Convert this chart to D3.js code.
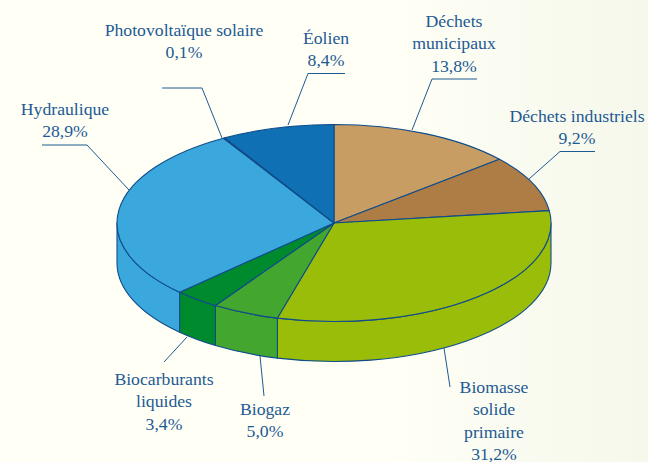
<!DOCTYPE html>
<html lang="fr">
<head>
<meta charset="utf-8">
<script src="https://cdn.jsdelivr.net/npm/d3@7"></script>
<style>
  html, body { margin: 0; padding: 0; overflow: hidden; background: #fffff5; }
  svg { display: block; }
  text { font-family: "Liberation Serif", serif; font-size: 17.7px; fill: #1d5a94; text-anchor: middle; }
</style>
</head>
<body>
<div id="chart"></div>
<script>
const sources = ['Déchets municipaux', 'Déchets industriels', 'Biomasse solide primaire', 'Biogaz',
  'Biocarburants liquides', 'Hydraulique', 'Photovoltaïque solaire', 'Éolien'];
const shares = [13.8, 9.2, 31.2, 5.0, 3.4, 28.9, 0.1, 8.4];
const colors = ['#c79d63', '#ae7d46', '#9abd0a', '#43a62e', '#008a2e', '#3aa8dc', '#3aa8dc', '#0f70b3'];
const labelLines = [
  ['Déchets', 'municipaux'], ['Déchets industriels'], ['Biomasse', 'solide', 'primaire'], ['Biogaz'],
  ['Biocarburants', 'liquides'], ['Hydraulique'], ['Photovoltaïque solaire'], ['Éolien'],
];

// where the labels and their leader lines sit
const labelX = [454, 577, 494, 265, 164, 65, 184, 326];
const labelY = [27, 122, 393, 415, 385, 115, 36, 44];
const leaders = [
  [[412, 130], [432, 79], [477, 79]],
  [[529, 179], [560, 151.5], [595, 151.5]],
  [[444, 348], [450, 387]],
  [[260, 356], [264, 396]],
  [[187, 337], [164, 362]],
  [[129, 190], [87, 145], [42, 145]],
  [[222, 138], [202, 88], [162, 88]],
  [[288, 125], [308, 73.5], [345, 73.5]],
];

const width = 648, height = 462;
const cx = 334, cy = 223, rx = 217, ry = 98.5, depth = 40;
const stroke = '#0f4c8a';

const svg = d3.select('#chart').append('svg')
  .attr('width', width)
  .attr('height', height);

const grad = svg.append('defs').append('linearGradient').attr('id', 'bg');
grad.append('stop').attr('offset', '60%').attr('stop-color', '#fffff5');
grad.append('stop').attr('offset', '100%').attr('stop-color', '#f6f8ec');
svg.append('rect').attr('width', width).attr('height', height).attr('fill', 'url(#bg)');

const pie = d3.pie().sort(null).value(d => d);
const slices = pie(shares);

// point on the rim, angle clockwise from the top like d3.pie
const rim = (a, dy = 0) => [cx + rx * Math.sin(a), cy - ry * Math.cos(a) + dy];

// front wall, only the part of each slice between 3 o'clock and 9 o'clock shows
const wallPath = d => {
  const a0 = Math.max(d.startAngle, Math.PI / 2);
  const a1 = Math.min(d.endAngle, Math.PI * 1.5);
  if (a1 <= a0) return null;
  const p0 = rim(a0), p1 = rim(a1), q1 = rim(a1, depth), q0 = rim(a0, depth);
  return `M${p0}A${rx},${ry} 0 0 1 ${p1}L${q1}A${rx},${ry} 0 0 0 ${q0}Z`;
};

svg.append('g').selectAll('path')
  .data(slices.filter(d => wallPath(d)))
  .enter()
  .append('path')
  .attr('d', wallPath)
  .attr('fill', d => colors[d.index])
  .attr('stroke', stroke)
  .attr('stroke-width', 1.1)
  .attr('stroke-linejoin', 'round');

// top face: circular arc squashed into the ellipse
const arc = d3.arc().innerRadius(0).outerRadius(rx);
svg.append('g')
  .attr('transform', `translate(${cx},${cy}) scale(1,${ry / rx})`)
  .selectAll('path')
  .data(slices)
  .enter()
  .append('path')
  .attr('d', arc)
  .attr('fill', d => colors[d.index])
  .attr('stroke', stroke)
  .attr('stroke-width', 1.1)
  .attr('stroke-linejoin', 'round')
  .attr('vector-effect', 'non-scaling-stroke');

const line = d3.line();
svg.append('g').selectAll('path')
  .data(leaders)
  .enter()
  .append('path')
  .attr('d', line)
  .attr('fill', 'none')
  .attr('stroke', '#1d5a94')
  .attr('stroke-width', 1);

const fmt = v => d3.format('.1f')(v).replace('.', ',') + '%';
const labels = svg.append('g').selectAll('text')
  .data(sources)
  .enter()
  .append('text')
  .attr('x', (d, i) => labelX[i])
  .attr('y', (d, i) => labelY[i]);

labels.selectAll('tspan')
  .data((d, i) => [...labelLines[i], fmt(shares[i])].map(t => ({ t, x: labelX[i] })))
  .enter()
  .append('tspan')
  .attr('x', d => d.x)
  .attr('dy', (d, i) => i ? 22.4 : 0)
  .text(d => d.t);
</script>
</body>
</html>
